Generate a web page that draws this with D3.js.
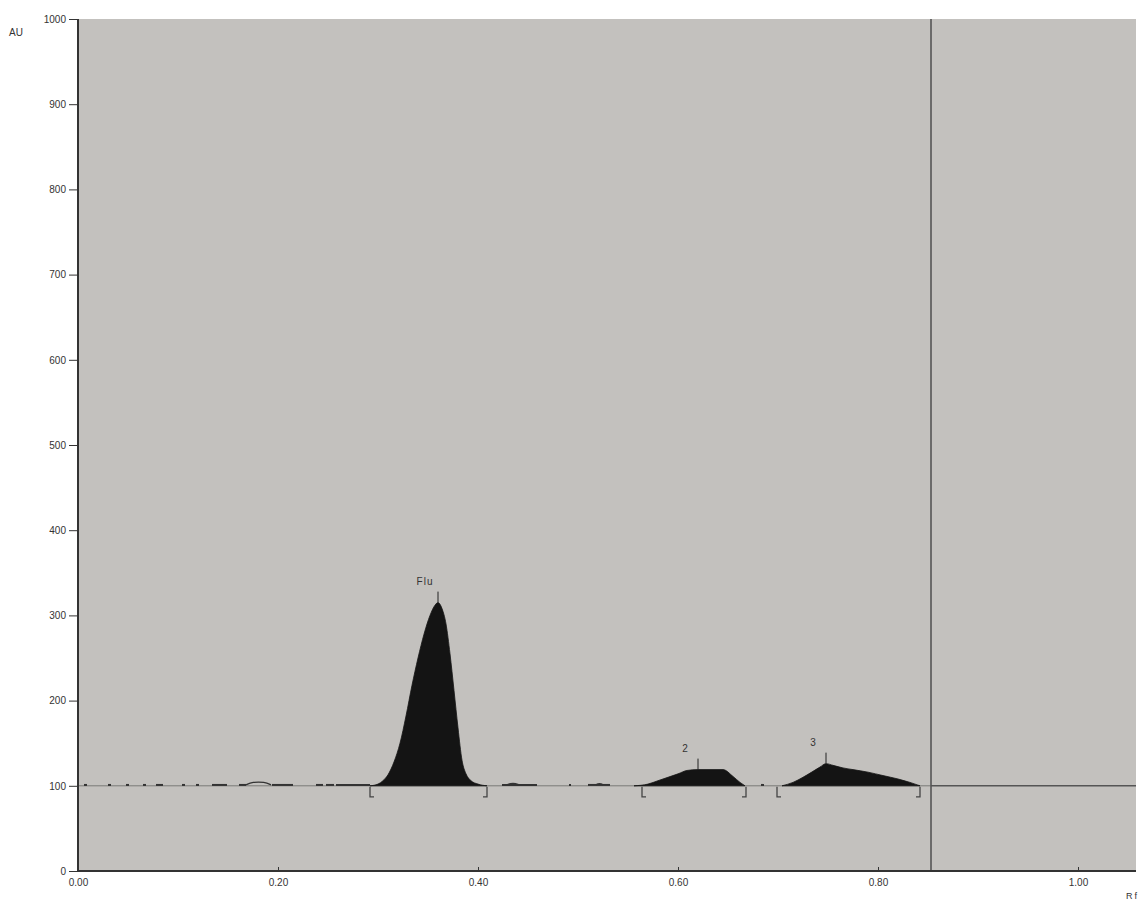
<!DOCTYPE html>
<html>
<head>
<meta charset="utf-8">
<script src="https://cdn.jsdelivr.net/npm/d3@7"></script>
<style>
  body { margin: 0; background: #fff; }
  text { font-family: "Liberation Sans", Arial, sans-serif; fill: #333; }
</style>
</head>
<body>
<svg id="chart" width="1142" height="901"></svg>
<script>
// tick values
const xTicks = [0, 0.2, 0.4, 0.6, 0.8, 1.0];
const yTicks = [0, 100, 200, 300, 400, 500, 600, 700, 800, 900, 1000];

// peaks: name, apex Rf, integration start / end
const peakNames = ["Flu", "2", "3"];
const peakApex = [0.360, 0.620, 0.748];
const peakStart = [0.292, 0.564, 0.699];
const peakEnd = [0.409, 0.668, 0.842];

// peak profiles [Rf, AU]
const fluTrace = [
  [0.292, 100], [0.300, 102], [0.305, 106], [0.310, 113], [0.316, 128], [0.322, 150],
  [0.328, 182], [0.334, 218], [0.340, 250], [0.346, 278], [0.352, 300], [0.357, 312],
  [0.360, 315], [0.364, 308], [0.368, 290], [0.372, 255], [0.376, 212], [0.380, 168],
  [0.384, 130], [0.388, 114], [0.393, 106], [0.400, 102], [0.409, 100]
];
const peak2Trace = [
  [0.556, 100], [0.570, 102], [0.580, 106], [0.590, 110], [0.600, 114], [0.609, 118],
  [0.620, 119], [0.645, 119], [0.655, 111], [0.662, 104], [0.667, 100]
];
const peak3Trace = [
  [0.704, 100], [0.715, 104], [0.725, 110], [0.735, 117], [0.742, 122], [0.748, 126],
  [0.755, 124], [0.765, 121], [0.775, 119], [0.790, 116], [0.805, 112], [0.820, 108],
  [0.832, 104], [0.842, 100]
];

// short pieces of baseline noise [from Rf, to Rf]
const noiseSegments = [
  [0.006, 0.009], [0.030, 0.033], [0.048, 0.051], [0.065, 0.068], [0.078, 0.085],
  [0.104, 0.107], [0.118, 0.121], [0.134, 0.149], [0.161, 0.168], [0.194, 0.215],
  [0.238, 0.245], [0.248, 0.256], [0.258, 0.292], [0.424, 0.459], [0.491, 0.493],
  [0.510, 0.532], [0.683, 0.686]
];
// tiny humps [from, to, AU]
const noiseBumps = [[0.168, 0.193, 104.5], [0.429, 0.441, 103], [0.518, 0.525, 102.5]];

const baselineAU = 100;
const markerRf = 0.853;

const svg = d3.select("#chart");
const margin = {top: 19, right: 6, bottom: 30, left: 78};
const W = 1142, H = 901;

const x = d3.scaleLinear().domain([0, 1.058]).range([margin.left, W - margin.right]);
const y = d3.scaleLinear().domain([0, 1000]).range([H - margin.bottom, margin.top]);

// plot background
svg.append("rect")
  .attr("x", x(0)).attr("y", y(1000))
  .attr("width", x(1.058) - x(0)).attr("height", y(0) - y(1000))
  .attr("fill", "#c3c1be");

// baseline
svg.append("line")
  .attr("x1", x(0)).attr("x2", x(markerRf))
  .attr("y1", y(baselineAU)).attr("y2", y(baselineAU))
  .attr("stroke", "#7a7977").attr("stroke-width", 1);
svg.append("line")
  .attr("x1", x(markerRf)).attr("x2", x(1.058))
  .attr("y1", y(baselineAU)).attr("y2", y(baselineAU))
  .attr("stroke", "#555", ).attr("stroke-width", 1.6);

// noise
svg.append("g").selectAll("line").data(noiseSegments).enter().append("line")
  .attr("x1", d => x(d[0])).attr("x2", d => x(d[1]))
  .attr("y1", y(baselineAU + 1)).attr("y2", y(baselineAU + 1))
  .attr("stroke", "#333").attr("stroke-width", 2);
svg.append("g").selectAll("path").data(noiseBumps).enter().append("path")
  .attr("d", d => {
    const w = d[1] - d[0];
    return d3.line().curve(d3.curveBasis)([
      [x(d[0]), y(baselineAU + 1)], [x(d[0] + w * 0.25), y(d[2])],
      [x(d[1] - w * 0.25), y(d[2])], [x(d[1]), y(baselineAU + 1)]
    ]);
  })
  .attr("fill", "none").attr("stroke", "#333").attr("stroke-width", 1.3);

// filled peaks
const area = d3.area()
  .x(d => x(d[0])).y0(y(baselineAU)).y1(d => y(d[1]))
  .curve(d3.curveMonotoneX);
svg.append("g").selectAll("path").data([fluTrace, peak2Trace, peak3Trace]).enter()
  .append("path")
  .attr("d", area)
  .attr("fill", "#141414").attr("stroke", "#141414").attr("stroke-width", 0.8);

// integration brackets
const bracketDepth = 11, bracketFoot = 4;
const bracket = svg.append("g").attr("stroke", "#444").attr("stroke-width", 1.3).attr("fill", "none");
peakStart.forEach((s, i) => {
  const y0 = y(baselineAU);
  bracket.append("path")
    .attr("d", `M${x(s)},${y0 + 1}V${y0 + bracketDepth}h${bracketFoot}`);
  bracket.append("path")
    .attr("d", `M${x(peakEnd[i])},${y0 + 1}V${y0 + bracketDepth}h${-bracketFoot}`);
});

// apex ticks and labels
const peakTraces = [fluTrace, peak2Trace, peak3Trace];
peakNames.forEach((name, i) => {
  const top = d3.max(peakTraces[i], d => d[1]);
  svg.append("line")
    .attr("x1", x(peakApex[i])).attr("x2", x(peakApex[i]))
    .attr("y1", y(top)).attr("y2", y(top) - 11)
    .attr("stroke", "#222").attr("stroke-width", 1);
  svg.append("text")
    .attr("x", x(peakApex[i]) - 13).attr("y", y(top) - 18)
    .attr("text-anchor", "middle").attr("font-size", 10)
    .attr("letter-spacing", name.length > 1 ? 1 : 0)
    .text(name);
});

// marker line
svg.append("line")
  .attr("x1", x(markerRf)).attr("x2", x(markerRf))
  .attr("y1", y(1000)).attr("y2", y(0))
  .attr("stroke", "#555").attr("stroke-width", 1.6);

// axes
const yAxis = d3.axisLeft(y).tickValues(yTicks).tickSize(9).tickPadding(3).tickFormat(d3.format("d"));
const gy = svg.append("g").attr("transform", `translate(${x(0)},0)`).call(yAxis);
gy.select(".domain").attr("stroke", "#333").attr("stroke-width", 2).attr("d", `M0,${y(1000)}V${y(0)}`);
gy.selectAll(".tick line").attr("stroke", "#333");
gy.selectAll("text").attr("font-size", 10).attr("font-family", "Liberation Sans, Arial, sans-serif").attr("fill", "#333");

const xAxis = d3.axisBottom(x).tickValues(xTicks).tickSize(-4).tickPadding(8).tickFormat(d3.format(".2f"));
const gx = svg.append("g").attr("transform", `translate(0,${y(0)})`).call(xAxis);
gx.select(".domain").attr("stroke", "#333").attr("stroke-width", 2).attr("d", `M${x(0)},0H${x(1.058)}`);
gx.selectAll(".tick line").attr("stroke", "#333");
gx.selectAll("text").attr("font-size", 10).attr("font-family", "Liberation Sans, Arial, sans-serif").attr("fill", "#333");

// axis titles
svg.append("text").attr("x", 9).attr("y", 36).attr("font-size", 10).text("AU");
svg.append("text").attr("x", 1126).attr("y", 899).attr("font-size", 9)
  .attr("letter-spacing", 2).text("Rf");
</script>
</body>
</html>
